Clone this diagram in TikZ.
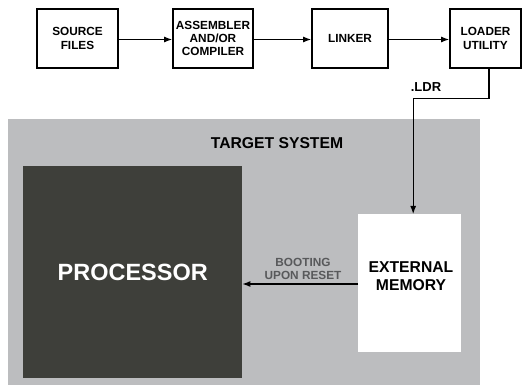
\documentclass[tikz,border=0pt]{standalone}
\usepackage{fontspec}
\setmainfont{Liberation Sans}
\usetikzlibrary{arrows.meta}
\definecolor{bggray}{HTML}{BCBDBF}
\definecolor{procdark}{HTML}{3E3F3A}
\definecolor{labgray}{HTML}{58595B}
\begin{document}
\begin{tikzpicture}[x=1pt,y=-1pt,
  flowbox/.style={draw,line width=1.7pt,minimum height=59pt,align=center,inner sep=0pt,
    font=\fontsize{11.8}{13.3}\selectfont\bfseries},
  conn/.style={line width=1.2pt,-{Latex[length=8pt,width=6pt]}},
  ]
\useasboundingbox (0,0) rectangle (523,385);
% target system background
\node[fill=bggray,minimum width=472pt,minimum height=266pt,inner sep=0pt,anchor=north west] (target) at (8,119) {};
\node[font=\fontsize{15.7}{18}\selectfont\bfseries] (targetlabel) at (277,143) {TARGET SYSTEM};
% top flow
\node[flowbox,minimum width=81pt] (src) at (77.5,38.5) {SOURCE\\FILES};
\node[flowbox,minimum width=80pt] (asm) at (213,38.5) {ASSEMBLER\\AND/OR\\COMPILER};
\node[flowbox,minimum width=76pt] (lnk) at (350,38.5) {LINKER};
\node[flowbox,minimum width=71pt] (ldr) at (485.5,38.5) {LOADER\\UTILITY};
\draw[conn] (src.east |- 0,39.5) -- (asm.west |- 0,39.5);
\draw[conn] (asm.east |- 0,39.5) -- (lnk.west |- 0,39.5);
\draw[conn] (lnk.east |- 0,39.5) -- (ldr.west |- 0,39.5);
% processor and memory
\node[fill=procdark,minimum width=219pt,minimum height=212pt,inner sep=0pt,anchor=north west] (proc) at (23,166) {};
\node[text=white,font=\fontsize{23.5}{26}\selectfont\bfseries] (proclabel) at (proc.center) {PROCESSOR};
\node[fill=white,minimum width=103pt,minimum height=138pt,inner sep=0pt,anchor=north west] (ext) at (358,214) {};
\node[align=center,font=\fontsize{15.7}{18.3}\selectfont\bfseries] (extlabel) at (411,276.5) {EXTERNAL\\MEMORY};
% connectors
\draw[line width=1.2pt,-{Latex[length=8pt,width=6pt]}] ([xshift=3.5pt]ldr.south) -- ++(0,30) -| ([xshift=3.5pt]ext.north);
\node[font=\fontsize{13}{15}\selectfont\bfseries] (ldrlabel) at (426,87) {.LDR};
\draw[conn] (ext.west |- 0,284) -- (proc.east |- 0,284);
\node[align=center,text=labgray,font=\fontsize{11.8}{13.3}\selectfont\bfseries] (bootlabel) at (303,269) {BOOTING\\UPON RESET};
\end{tikzpicture}
\end{document}
